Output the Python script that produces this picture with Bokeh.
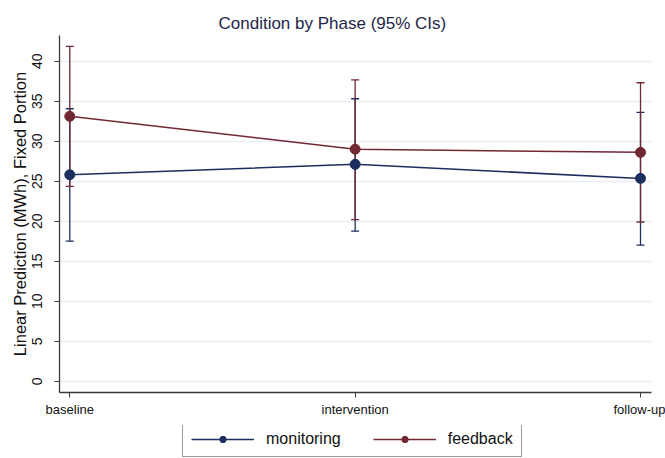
from bokeh.plotting import figure
from bokeh.layouts import column
from bokeh.models import (ColumnDataSource, Range1d, FixedTicker, Whisker, TeeHead,
                          Legend, LegendItem)
from bokeh.embed import file_html
from bokeh.resources import INLINE

phases = ["baseline", "intervention", "follow-up"]
phase_x = [1, 2, 3]

monitoring_mean = [25.8, 27.1, 25.35]
monitoring_lo = [17.5, 18.75, 17.0]
monitoring_hi = [34.05, 35.3, 33.6]

feedback_mean = [33.1, 29.0, 28.6]
feedback_lo = [24.35, 20.2, 19.9]
feedback_hi = [41.85, 37.65, 37.3]

y_ticks = [0, 5, 10, 15, 20, 25, 30, 35, 40]
series_names = ["monitoring", "feedback"]

NAVY = "#1c2f5e"
MAROON = "#702832"
FONT = "Liberation Sans"

p = figure(width=665, height=425, output_backend="svg", toolbar_location=None,
           x_range=Range1d(0.964, 3.0385), y_range=Range1d(-1.4, 43.2),
           min_border_left=59, min_border_right=14, min_border_top=35, min_border_bottom=33)
p.outline_line_color = None
p.background_fill_color = "white"
p.border_fill_color = "white"

p.title.text = "Condition by Phase (95% CIs)"
p.title.text_font = FONT
p.title.text_font_size = "17px"
p.title.text_font_style = "normal"
p.title.text_color = "#1e2647"
p.title.align = "left"
p.title.offset = 159
p.title.standoff = 5

# axes
p.xaxis.ticker = FixedTicker(ticks=phase_x)
p.xaxis.major_label_overrides = {x: s for x, s in zip(phase_x, phases)}
p.yaxis.ticker = FixedTicker(ticks=y_ticks)
for ax in (p.xaxis, p.yaxis):
    ax.axis_line_color = "#3a3a3a"
    ax.axis_line_width = 1.3
    ax.major_tick_line_color = "#3a3a3a"
    ax.major_tick_out = 5
    ax.major_tick_in = 0
    ax.minor_tick_line_color = None
    ax.major_label_text_font = FONT
    ax.major_label_text_color = "#111111"
p.xaxis.major_label_text_font_size = "13px"
p.xaxis.major_label_standoff = 4
p.yaxis.major_label_text_font_size = "14px"
p.yaxis.major_label_orientation = "vertical"
p.yaxis.major_label_standoff = 12
p.yaxis.axis_label = "Linear Prediction (MWh), Fixed Portion"
p.yaxis.axis_label_text_font = FONT
p.yaxis.axis_label_text_font_size = "16.5px"
p.yaxis.axis_label_text_font_style = "normal"
p.yaxis.axis_label_text_color = "#111111"
p.yaxis.axis_label_standoff = 1

p.xgrid.grid_line_color = None
p.ygrid.grid_line_color = "#e7eff2"
p.ygrid.grid_line_width = 1.5

src_m = ColumnDataSource(dict(x=phase_x, y=monitoring_mean, lo=monitoring_lo, hi=monitoring_hi))
src_f = ColumnDataSource(dict(x=phase_x, y=feedback_mean, lo=feedback_lo, hi=feedback_hi))

for src, col in ((src_m, NAVY), (src_f, MAROON)):
    w = Whisker(source=src, base="x", lower="lo", upper="hi",
                line_color=col, line_width=1.3,
                upper_head=TeeHead(size=8, line_color=col, line_width=1.3),
                lower_head=TeeHead(size=8, line_color=col, line_width=1.3))
    p.add_layout(w)

p.line("x", "y", source=src_m, line_color=NAVY, line_width=1.5)
p.scatter("x", "y", source=src_m, size=10, fill_color=NAVY, line_color=NAVY)
p.line("x", "y", source=src_f, line_color=MAROON, line_width=1.5)
p.scatter("x", "y", source=src_f, size=10, fill_color=MAROON, line_color=MAROON)

# legend strip below the plot (its frame is aligned with the main plot's frame);
# the series are drawn here outside the visible y range, only their legend glyphs show
lg = figure(width=665, height=33, output_backend="svg", toolbar_location=None,
            x_range=Range1d(0.964, 3.0385), y_range=Range1d(100, 101),
            min_border_left=0, min_border_right=0, min_border_top=0, min_border_bottom=0)
lg.axis.visible = False
lg.grid.grid_line_color = None
lg.outline_line_color = None
items = []
for name, src, col in zip(series_names, (src_m, src_f), (NAVY, MAROON)):
    r1 = lg.line("x", "y", source=src, line_color=col, line_width=1.5)
    r2 = lg.scatter("x", "y", source=src, size=9, fill_color=col, line_color=col)
    items.append(LegendItem(label=name, renderers=[r1, r2]))

legend = Legend(items=items, orientation="horizontal", location=(123, 1))
legend.glyph_width = 63
legend.glyph_height = 16
legend.label_height = 16
legend.label_text_font = FONT
legend.label_text_font_size = "16px"
legend.label_text_color = "#111111"
legend.label_standoff = 12
legend.spacing = 32
legend.padding = 8
legend.margin = 0
legend.border_line_color = "#333333"
legend.border_line_width = 1
legend.background_fill_alpha = 1
lg.add_layout(legend, "center")

layout = column(p, lg, spacing=0)
open("out.html", "w").write(file_html(layout, INLINE))
